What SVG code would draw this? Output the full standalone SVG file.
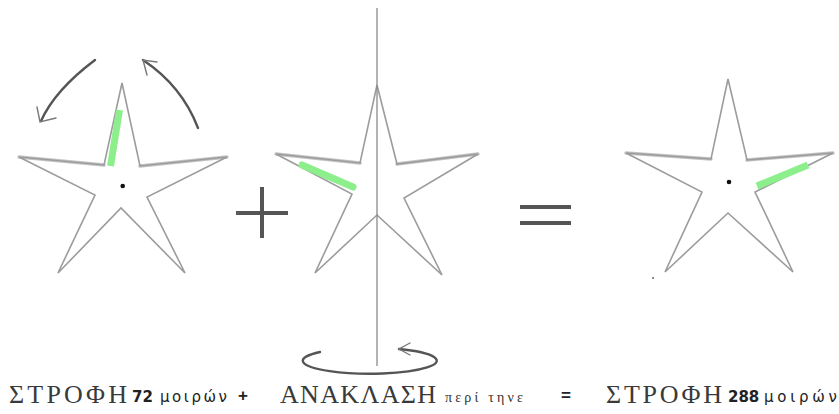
<svg xmlns="http://www.w3.org/2000/svg" width="839" height="414" viewBox="0 0 839 414">
<style>
.star{fill:none;stroke:#9c9c9c;stroke-width:1.6;stroke-linejoin:miter}
.blur{fill:none;stroke:#c4c4c4;stroke-width:3.5;stroke-linecap:round}
.green{fill:none;stroke:#8cef8c;stroke-width:7}
.arr{fill:none;stroke:#555;stroke-width:2.4;stroke-linecap:round}
.head{fill:none;stroke:#777;stroke-width:1.4;stroke-linecap:round}
.sym{fill:none;stroke:#555;stroke-width:4}
.big{font-family:"Liberation Serif","Times New Roman",serif;font-size:26px;fill:#3a3a3a}
.small{font-family:"DejaVu Sans","Liberation Sans",sans-serif;font-size:15px;fill:#222}
.tiny{font-family:"Liberation Serif","Times New Roman",serif;font-size:14px;fill:#333}
.op{font-family:"Liberation Sans",Arial,sans-serif;font-size:17px;font-weight:bold;fill:#222}
</style>
<rect width="839" height="414" fill="#fff"/>
<g id="star1">
<line class="blur" x1="19" y1="157" x2="104" y2="165"/>
<line class="blur" x1="140" y1="166" x2="227" y2="157"/>
<polygon class="star" points="122,83 140,166 227,157 147,197 185,273 121,208 58,273 95,195 19,157 104,165"/>
<line class="green" x1="119.5" y1="110" x2="110.5" y2="166"/>
<circle cx="122.7" cy="186" r="2.3" fill="#111"/>
</g>
<g id="star2">
<line class="blur" x1="276" y1="154" x2="360" y2="163"/>
<line class="blur" x1="397" y1="164" x2="478" y2="154"/>
<polygon class="star" points="377,85 397,164 478,154 404,198 442,275 377,215 315,273 352,194 276,154 360,163"/>
<line x1="377" y1="8" x2="377" y2="366" stroke="#8a8a8a" stroke-width="1.3"/>
<line class="green" x1="302" y1="165" x2="353" y2="187" stroke-linecap="round"/>
</g>
<g id="star3">
<line class="blur" x1="626" y1="153" x2="711" y2="159"/>
<line class="blur" x1="747" y1="160" x2="833" y2="153"/>
<polygon class="star" points="728,79 747,160 833,153 755,192 793,272 728,213 665,272 702,192 626,153 711,159"/>
<line class="green" x1="757" y1="186" x2="808" y2="165"/>
<circle cx="729" cy="182" r="2.3" fill="#111"/>
</g>
<g id="plus-sign">
<line class="sym" x1="262" y1="187" x2="262" y2="238"/>
<line class="sym" x1="236" y1="213" x2="288" y2="213"/>
</g>
<g id="equals-sign">
<line class="sym" x1="520" y1="207" x2="571" y2="207"/>
<line class="sym" x1="520" y1="223" x2="571" y2="223"/>
</g>
<g id="connectors">
<path class="arr" d="M95,60 Q55,90 41,121"/>
<polyline class="head" points="37,107 40,122 56,118"/>
<path class="arr" d="M143,60 Q182,86 198,128"/>
<polyline class="head" points="147,75 143,60 157,62"/>
<path class="arr" d="M320,352 A67,13 0 1 0 399,349"/>
<polyline class="head" points="410,343 399,349 410,355"/>
</g>
<g id="artifacts" fill="#666">
<circle cx="238" cy="213" r="1"/>
<circle cx="653" cy="278" r="1"/>
</g>
<g id="labels">
<text class="big" x="9" y="403" textLength="118" lengthAdjust="spacing">ΣΤΡΟΦΗ</text>
<text class="small" x="132" y="402" font-weight="bold">72</text>
<text class="small" x="160" y="402" textLength="67" lengthAdjust="spacing">μοιρών</text>
<text class="op" x="238" y="401">+</text>
<text class="big" x="280" y="403" textLength="156" lengthAdjust="spacing">ΑΝΑΚΛΑΣΗ</text>
<text class="tiny" x="445" y="402" textLength="78" lengthAdjust="spacing">περί τηνε</text>
<text class="op" x="561" y="401">=</text>
<text class="big" x="606" y="403" textLength="116" lengthAdjust="spacing">ΣΤΡΟΦΗ</text>
<text class="small" x="728" y="402" font-weight="bold">288</text>
<text class="small" x="764" y="402" textLength="73" lengthAdjust="spacing">μοιρών</text>
</g>
</svg>
